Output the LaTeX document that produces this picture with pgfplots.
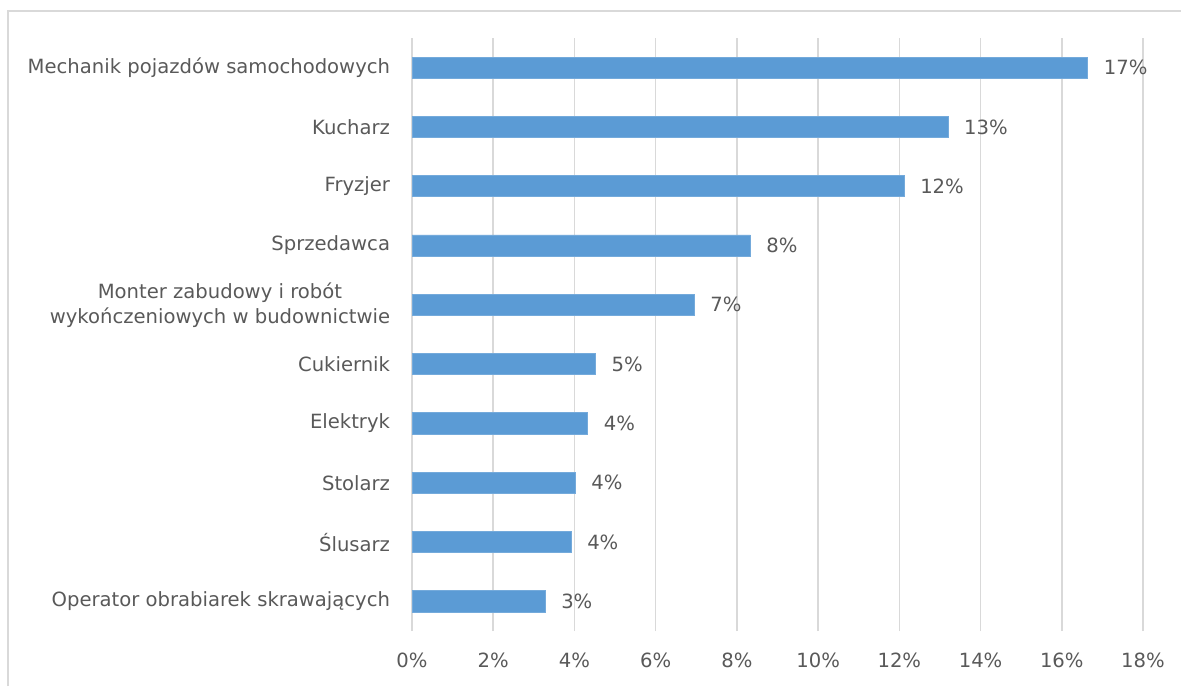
\documentclass[border=0pt]{standalone}
\usepackage{pgfplots}
\pgfplotsset{compat=1.18}
\usepackage{fontspec}
\setmainfont{DejaVu Sans}
\definecolor{barblue}{HTML}{5B9BD5}
\definecolor{txt}{HTML}{595959}
\definecolor{gridc}{HTML}{D9D9D9}
\begin{document}
\begin{tikzpicture}[x=1pt,y=1pt]
\useasboundingbox (0,0) rectangle (590.5,343);
\draw[gridc, line width=0.75pt] (4,0) -- (4,337.5) -- (590.5,337.5);
\begin{axis}[
  at={(206pt,27.5pt)}, anchor=south west,
  scale only axis, width=365.5pt, height=296.5pt,
  xmin=0, xmax=18, ymin=-0.5, ymax=9.5,
  xbar, bar width=10.6pt,
  xtick={0,2,...,18},
  xticklabel={\pgfmathprintnumber{\tick}\%},
  /pgf/number format/assume math mode=true,
  ytick={0,...,9},
  yticklabels={Operator obrabiarek skrawających,Ślusarz,Stolarz,Elektryk,Cukiernik,{Monter zabudowy i robót\\wykończeniowych w budownictwie},Sprzedawca,Fryzjer,Kucharz,Mechanik pojazdów samochodowych},
  yticklabel style={align=center, xshift=-3.2pt, font=\fontsize{9.8}{12.5}\selectfont, text=txt},
  xticklabel style={yshift=-7.5pt, font=\fontsize{9.8}{12}\selectfont, text=txt},
  xmajorgrids, major grid style={gridc, line width=0.75pt},
  axis line style={draw=none},
  tick style={draw=none},
  nodes near coords={\pgfmathprintnumber[fixed,precision=0]{\pgfplotspointmeta}\%},
  point meta=x,
  every node near coord/.append style={font=\fontsize{9.8}{12}\selectfont, text=txt, xshift=4.5pt, /pgf/number format/assume math mode=true},
]
\addplot[fill=barblue, draw=barblue!85!white, line width=0.4pt] coordinates {
(3.28,0) (3.92,1) (4.02,2) (4.33,3) (4.52,4) (6.95,5) (8.33,6) (12.12,7) (13.2,8) (16.64,9)
};
\end{axis}
\end{tikzpicture}
\end{document}
